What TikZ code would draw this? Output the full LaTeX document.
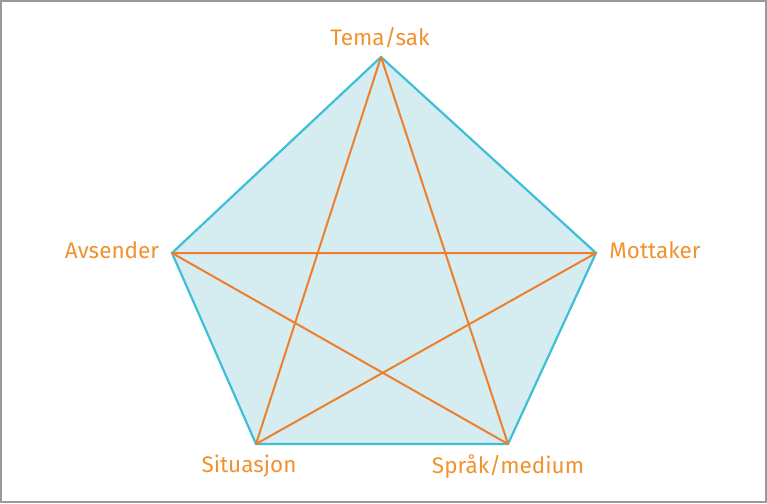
\documentclass[tikz,border=0pt]{standalone}
\usepackage{fontspec}
\setmainfont{Fira Sans}
\definecolor{lab}{HTML}{F0922E}
\definecolor{edge}{HTML}{3EBFD8}
\definecolor{pfill}{HTML}{D5ECF0}
\definecolor{star}{HTML}{EE7F2D}
\definecolor{frame}{HTML}{9A9A9A}
\begin{document}
\begin{tikzpicture}[x=1pt,y=-1pt,
  lbl/.style={text=lab,font=\fontsize{22.5}{26}\selectfont,inner sep=0pt}]
\useasboundingbox (0,0) rectangle (767,503);
\draw[frame,line width=2pt] (1,1) rectangle (766,502);
\coordinate (T) at (381,57);
\coordinate (L) at (172,253);
\coordinate (R) at (596,253);
\coordinate (BL) at (256,444);
\coordinate (BR) at (508,444);
\draw[edge,fill=pfill,line width=2.2pt,line join=miter] (T) -- (R) -- (BR) -- (BL) -- (L) -- cycle;
\draw[star,line width=2pt,line join=round] (T) -- (BR) -- (L) -- (R) -- (BL) -- cycle;
\node[lbl] (nT) at (380,38) {Tema/sak};
\node[lbl] (nL) at (112,250) {Avsender};
\node[lbl] (nR) at (655,250) {Mottaker};
\node[lbl] (nBL) at (249,466) {Situasjon};
\node[lbl] (nBR) at (508,466) {Språk/medium};
\end{tikzpicture}
\end{document}
